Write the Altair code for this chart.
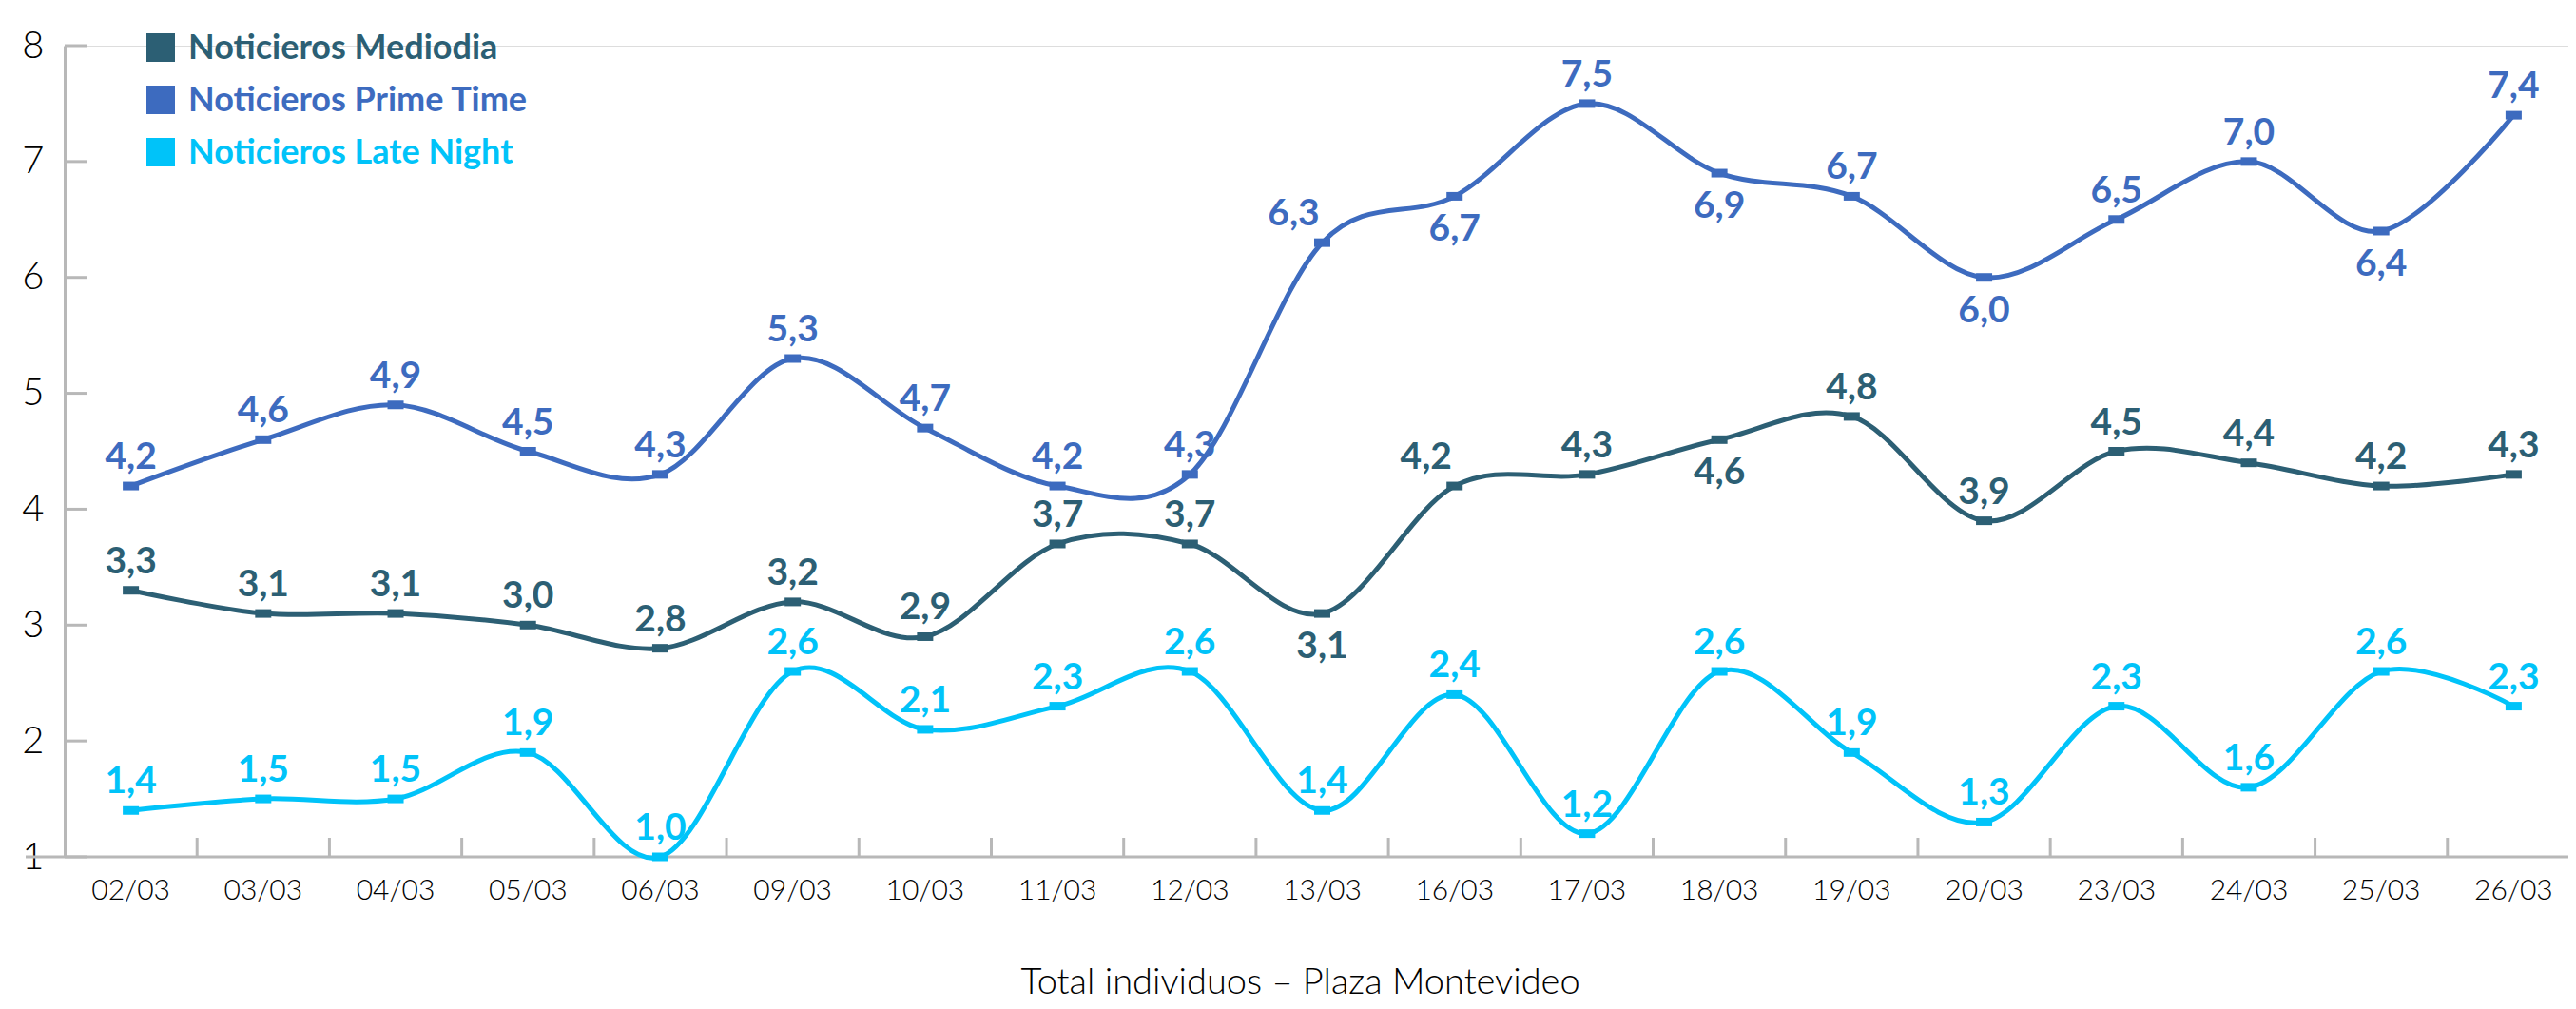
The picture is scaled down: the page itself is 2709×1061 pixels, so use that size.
import altair as alt
import pandas as pd

# ---------------- data ----------------
dates = ["02/03", "03/03", "04/03", "05/03", "06/03", "09/03", "10/03", "11/03", "12/03",
         "13/03", "16/03", "17/03", "18/03", "19/03", "20/03", "23/03", "24/03", "25/03", "26/03"]
mediodia = [3.3, 3.1, 3.1, 3.0, 2.8, 3.2, 2.9, 3.7, 3.7, 3.1, 4.2, 4.3, 4.6, 4.8, 3.9, 4.5, 4.4, 4.2, 4.3]
prime = [4.2, 4.6, 4.9, 4.5, 4.3, 5.3, 4.7, 4.2, 4.3, 6.3, 6.7, 7.5, 6.9, 6.7, 6.0, 6.5, 7.0, 6.4, 7.4]
late = [1.4, 1.5, 1.5, 1.9, 1.0, 2.6, 2.1, 2.3, 2.6, 1.4, 2.4, 1.2, 2.6, 1.9, 1.3, 2.3, 1.6, 2.6, 2.3]
series = ["Noticieros Mediodia", "Noticieros Prime Time", "Noticieros Late Night"]
y_ticks = [1, 2, 3, 4, 5, 6, 7, 8]
x_title = "Total individuos – Plaza Montevideo"

# ---------------- styling ----------------
colors = ["#2c5f74", "#3d6bbf", "#00c3f9"]
axis_gray = "#b8b8b8"
W, H = 2633, 853
X_RANGE = 2645

# label placement (style): labels drawn below the point, or shifted
label_below = {("Noticieros Prime Time", "16/03"), ("Noticieros Prime Time", "18/03"),
               ("Noticieros Prime Time", "20/03"), ("Noticieros Prime Time", "25/03"),
               ("Noticieros Mediodia", "13/03"), ("Noticieros Mediodia", "18/03")}
label_left = {("Noticieros Prime Time", "13/03"), ("Noticieros Mediodia", "16/03")}

rows = []
for s, vals in zip(series, [mediodia, prime, late]):
    for d, v in zip(dates, vals):
        if (s, d) in label_below:
            pos = "below"
        elif (s, d) in label_left:
            pos = "left"
        else:
            pos = "above"
        rows.append({"date": d, "serie": s, "value": v,
                     "label": f"{v:.1f}".replace(".", ","), "pos": pos})
df = pd.DataFrame(rows)

xscale = alt.Scale(type="band", domain=dates, paddingInner=0, paddingOuter=0, range=[0, X_RANGE])
yscale = alt.Scale(domain=[1, 8], nice=False, zero=False)
cscale = alt.Scale(domain=series, range=colors)

base = alt.Chart(df)

lines = base.mark_line(interpolate="cardinal", strokeWidth=5).encode(
    x=alt.X("date:N", scale=xscale, bandPosition=0.5,
            axis=alt.Axis(title=x_title, domain=False, ticks=False, tickSize=0, grid=False,
                          bandPosition=0.5, labelFlush=False, labelOverlap=False,
                          labelFont="Lato", labelFontSize=30, labelFontWeight=300,
                          labelColor="#000", labelBaseline="alphabetic", labelPadding=44,
                          labelAngle=0, labelAlign="center",
                          titleFont="Lato", titleFontSize=38, titleFontWeight=300,
                          titleColor="#000", titleBaseline="alphabetic",
                          titleAnchor="start", titleAlign="center",
                          titleX=1299, titleY=143)),
    y=alt.Y("value:Q", scale=yscale,
            axis=alt.Axis(values=y_ticks, format="d", title=None, ticks=False, tickSize=0,
                          grid=False, domain=True, domainColor=axis_gray, domainWidth=3,
                          labelFont="Lato", labelFontSize=40, labelFontWeight=300,
                          labelColor="#000", labelPadding=22)),
    color=alt.Color("serie:N", scale=cscale, legend=None),
)

markers = base.mark_tick(orient="horizontal", size=17, thickness=9, opacity=1).encode(
    x=alt.X("date:N", scale=xscale, bandPosition=0.5),
    y=alt.Y("value:Q", scale=yscale),
    color=alt.Color("serie:N", scale=cscale, legend=None),
)

label_layers = []
for pos, dx, dy in [("above", 0, -18), ("below", 0, 47), ("left", -30, -18)]:
    label_layers.append(
        base.transform_filter(alt.datum.pos == pos).mark_text(
            font="Lato", fontSize=39, fontWeight="bold", align="center",
            baseline="alphabetic", dx=dx, dy=dy
        ).encode(
            x=alt.X("date:N", scale=xscale, bandPosition=0.5),
            y=alt.Y("value:Q", scale=yscale),
            text="label:N",
            color=alt.Color("serie:N", scale=cscale, legend=None),
        )
    )

# axis furniture
ytick_df = pd.DataFrame({"v": y_ticks})
yticks = alt.Chart(ytick_df).mark_rule(color=axis_gray, strokeWidth=3).encode(
    y=alt.Y("v:Q", scale=yscale), x=alt.value(0), x2=alt.value(24))

xtick_df = pd.DataFrame({"date": dates[1:]})
xticks = alt.Chart(xtick_df).mark_rule(color=axis_gray, strokeWidth=3).encode(
    x=alt.X("date:N", scale=xscale, bandPosition=0), y=alt.value(H - 20), y2=alt.value(H))

xaxis_line = alt.Chart(ytick_df).transform_filter(alt.datum.v == 1).mark_rule(
    color=axis_gray, strokeWidth=3).encode(
    y=alt.Y("v:Q", scale=yscale), x=alt.value(-41), x2=alt.value(W + 20))

# custom legend
legend_df = pd.DataFrame({"serie": series})
legend_layers = []
for i, s in enumerate(series):
    ly = 2 + 55 * i
    legend_layers.append(
        alt.Chart(legend_df).transform_filter(alt.datum.serie == s).mark_square(
            size=900, opacity=1, filled=True).encode(
            x=alt.value(101), y=alt.value(ly),
            color=alt.Color("serie:N", scale=cscale, legend=None)))
    legend_layers.append(
        alt.Chart(legend_df).transform_filter(alt.datum.serie == s).mark_text(
            align="left", baseline="middle", font="Lato", fontSize=36, fontWeight="bold", dy=1).encode(
            x=alt.value(130), y=alt.value(ly), text="serie:N",
            color=alt.Color("serie:N", scale=cscale, legend=None)))

chart = alt.layer(
    xaxis_line, yticks, xticks, lines, markers, *label_layers, *legend_layers
).properties(
    width=W, height=H,
    padding={"left": 60, "top": 40, "right": 0, "bottom": 152},
    autosize=alt.AutoSizeParams(type="none"),
).configure_view(strokeWidth=0).configure(background="white")

chart.save("out.html", embed_options={"renderer": "svg", "actions": False})
